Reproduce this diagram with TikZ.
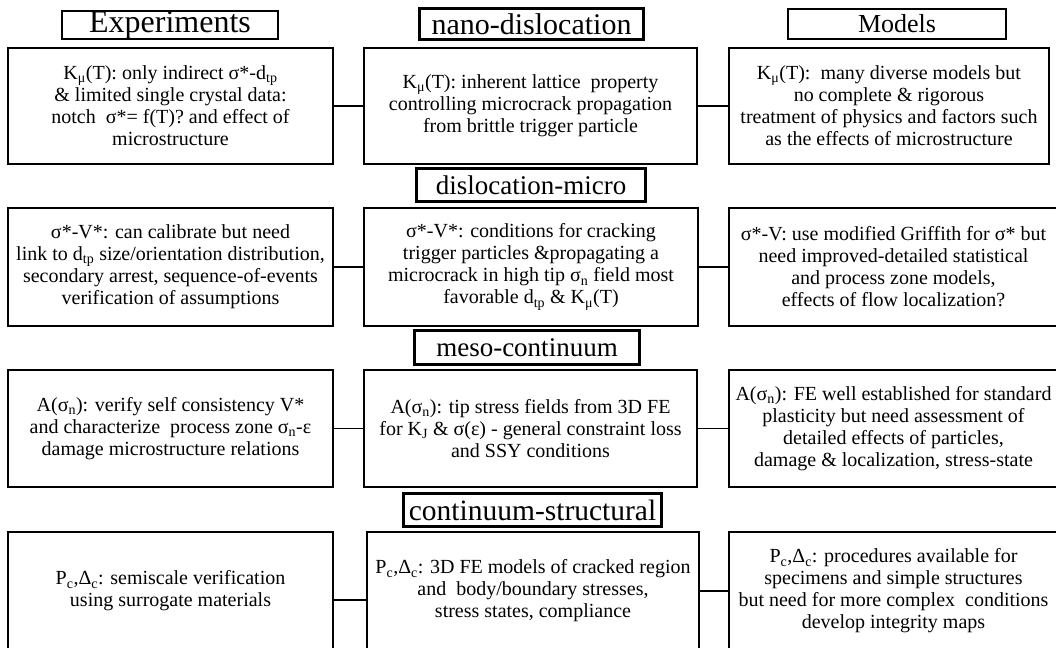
\documentclass[tikz,border=0pt]{standalone}
\usepackage{fontspec}
\setmainfont{Liberation Serif}
\newcommand{\sub}[1]{\textsubscript{#1}}
\begin{document}
\begin{tikzpicture}[x=1pt, y=-1pt,
    every node/.style={inner sep=0pt, align=center},
    cell/.style={draw, line width=1.2pt, font=\fontsize{20}{22}\selectfont},
    side/.style={draw, line width=1.2pt, font=\fontsize{#1}{30}\selectfont},
    level/.style={draw, line width=3pt, font=\fontsize{#1}{30}\selectfont},
    link/.style={line width=1.2pt}]
\useasboundingbox (0,0) rectangle (1056,647);
% column titles
\node [side=32, minimum width=216, minimum height=28] (exp) at (170,25) {Experiments};
\node [level=30, minimum width=224, minimum height=31] (nano) at (531.5,24) {nano-dislocation};
\node [side=26, minimum width=218, minimum height=30] (mod) at (897,24) {Models};
% nano-dislocation
\node [cell, minimum width=325, minimum height=116] (e1) at (170.5,106) {K\sub{μ}(T): only indirect σ*-d\sub{tp}\\ \& limited single crystal data:\\ notch\ \ σ*= f(T)? and effect of\\ microstructure};
\node [cell, minimum width=333, minimum height=116] (c1) at (530.5,106) {K\sub{μ}(T): inherent lattice\ \ property\\ controlling microcrack propagation\\ from brittle trigger particle};
\node [cell, minimum width=320, minimum height=116] (m1) at (889,106) {K\sub{μ}(T):\ \ many diverse models but\\ no complete \& rigorous\\ treatment of physics and factors such\\ as the effects of microstructure};
\draw [link] (e1) -- (c1);
\draw [link] (c1) -- (m1);
% dislocation-micro
\node [level=27, minimum width=229, minimum height=33] (micro) at (531,185) {dislocation-micro};
\node [cell, minimum width=325, minimum height=118] (e2) at (170.5,267) {σ*-V*: can calibrate but need\\ link to d\sub{tp} size/orientation distribution,\\ secondary arrest, sequence-of-events\\ verification of assumptions};
\node [cell, minimum width=334, minimum height=118] (c2) at (531,267) {σ*-V*: conditions for cracking\\ trigger particles \&propagating a\\ microcrack in high tip σ\sub{n} field most\\ favorable d\sub{tp} \& K\sub{μ}(T)};
\node [cell, minimum width=329, minimum height=118] (m2) at (893.5,267) {σ*-V: use modified Griffith for σ* but\\ need improved-detailed statistical\\ and process zone models,\\ effects of flow localization?};
\draw [link] (e2) -- (c2);
\draw [link] (c2) -- (m2);
% meso-continuum
\node [level=27, minimum width=225, minimum height=34] (meso) at (527,347.5) {meso-continuum};
\node [cell, minimum width=325, minimum height=117] (e3) at (170.5,428.5) {A(σ\sub{n}): verify self consistency V*\\ and characterize\ \ process zone σ\sub{n}-ε\\ damage microstructure relations};
\node [cell, minimum width=333, minimum height=117] (c3) at (530.5,428.5) {A(σ\sub{n}): tip stress fields from 3D FE\\ for K\sub{J} \& σ(ε) - general constraint loss\\ and SSY conditions};
\node [cell, minimum width=329, minimum height=117] (m3) at (893.5,428.5) {A(σ\sub{n}): FE well established for standard\\ plasticity but need assessment of\\ detailed effects of particles,\\ damage \& localization, stress-state};
\draw [link] (e3) -- (c3);
\draw [link] (c3) -- (m3);
% continuum-structural
\node [level=29.5, minimum width=258, minimum height=33] (struct) at (532.5,510) {continuum-structural};
\node [cell, minimum width=325, minimum height=118] (e4) at (170.5,591) {P\sub{c},Δ\sub{c}: semiscale verification\\ using surrogate materials};
\node [cell, minimum width=332, minimum height=118] (c4) at (533,591) {P\sub{c},Δ\sub{c}: 3D FE models of cracked region\\ and\ \ body/boundary stresses,\\ stress states, compliance};
\node [cell, minimum width=329, minimum height=118] (m4) at (893.5,591) {P\sub{c},Δ\sub{c}: procedures available for\\ specimens and simple structures\\ but need for more complex\ \ conditions\\ develop integrity maps};
\draw [link] ([yshift=-9pt]e4.east) -- ([yshift=-9pt]c4.west);
\draw [link] (c4) -- (m4);
\end{tikzpicture}
\end{document}
